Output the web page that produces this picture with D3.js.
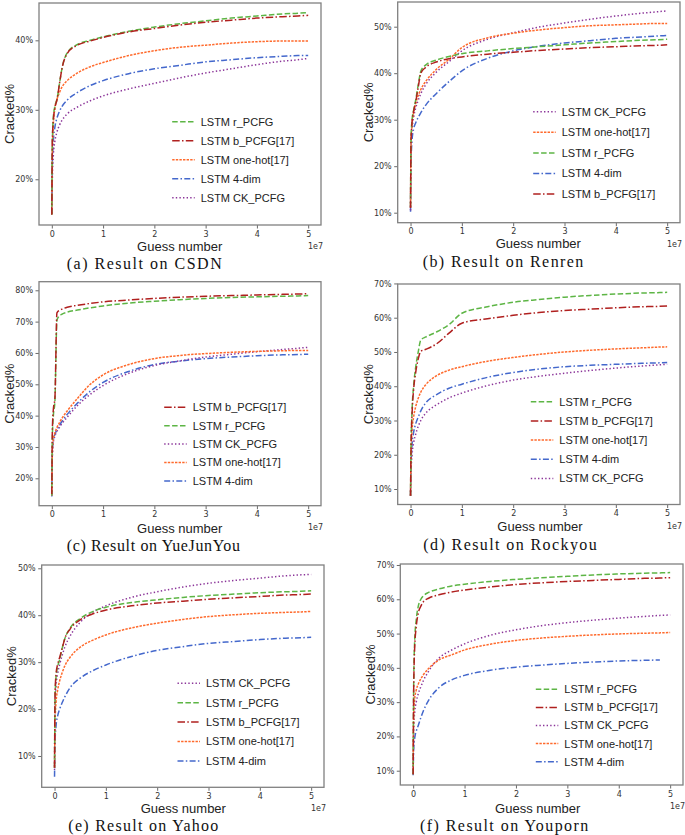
<!DOCTYPE html>
<html><head><meta charset="utf-8">
<script src="https://cdn.jsdelivr.net/npm/d3@7"></script>
<style>body{margin:0;background:#fff}svg{display:block}</style>
</head><body>
<svg id="chart" width="685" height="835"></svg>
<script>
// ---------- DATA ----------
// Guess number in units of 1e7
const guessesE7 = [0, 0.01, 0.03, 0.06, 0.1, 0.15, 0.2, 0.3, 0.5, 0.75, 1, 1.5, 2, 2.5, 3, 3.5, 4, 4.5, 4.8, 5];
const xTicks = [0, 1, 2, 3, 4, 5];

const seriesKeys = ["r", "b", "onehot", "dim4", "ck"];
const seriesLabels = ["LSTM r_PCFG", "LSTM b_PCFG[17]", "LSTM one-hot[17]", "LSTM 4-dim", "LSTM CK_PCFG"];

// (a) CSDN  (Cracked %)
const csdnR      = [14.9, 25, 29, 30.5, 31.5, 33.8, 36.0, 38.2, 39.4, 40.0, 40.5, 41.3, 41.9, 42.4, 42.8, 43.2, 43.5, 43.8, 43.9, 44.0];
const csdnB      = [14.9, 25.5, 28.5, 30.3, 31.4, 33.8, 36.0, 38.1, 39.3, 39.9, 40.4, 41.2, 41.7, 42.2, 42.6, 42.9, 43.2, 43.4, 43.5, 43.6];
const csdnOneHot = [15, 24, 28, 30.2, 31.5, 32.5, 33.3, 34.2, 35.3, 36.2, 36.8, 37.8, 38.5, 39.0, 39.3, 39.6, 39.8, 39.9, 39.9, 39.9];
const csdnDim4   = [15, 22, 25.5, 27.5, 28.8, 29.8, 30.5, 31.4, 32.5, 33.5, 34.2, 35.2, 35.9, 36.4, 36.9, 37.2, 37.5, 37.7, 37.8, 37.8];
const csdnCK     = [15, 20, 23.5, 25.5, 26.8, 27.8, 28.5, 29.4, 30.4, 31.3, 32.0, 33.0, 33.8, 34.6, 35.3, 35.9, 36.5, 37.0, 37.2, 37.4];
const csdnYTicks = [20, 30, 40];
const csdnLegend = ["r", "b", "onehot", "dim4", "ck"];

// (b) Renren
const renrenR      = [11.3, 26, 30, 32, 34.2, 37.5, 40.4, 41.8, 42.8, 43.6, 44.2, 44.8, 45.3, 45.7, 46.1, 46.5, 46.8, 47.1, 47.2, 47.3];
const renrenB      = [11, 25.5, 29.5, 31.8, 33.8, 37, 40, 41.3, 42.4, 43.1, 43.5, 44.1, 44.5, 44.9, 45.2, 45.5, 45.7, 45.9, 46.0, 46.1];
const renrenOneHot = [11, 25, 29, 31.5, 33.5, 35.2, 36.5, 38.3, 40.8, 43.0, 45.5, 47.6, 48.6, 49.3, 49.8, 50.2, 50.4, 50.6, 50.7, 50.7];
const renrenDim4   = [10.2, 21, 25.6, 28, 29.3, 30.5, 31.5, 33.2, 35.6, 38.2, 40.5, 43.2, 44.8, 45.8, 46.5, 47.0, 47.5, 47.8, 48.0, 48.1];
const renrenCK     = [10.5, 24, 28, 30.5, 32.5, 34.2, 35.6, 37.6, 40.2, 42.5, 44.8, 47.3, 48.7, 49.9, 50.8, 51.6, 52.3, 52.9, 53.2, 53.4];
const renrenYTicks = [10, 20, 30, 40, 50];
const renrenLegend = ["ck", "onehot", "r", "dim4", "b"];

// (c) YueJunYou
const yjyR      = [14.5, 33, 40, 44.5, 70.5, 71.8, 72.4, 73.0, 73.7, 74.4, 75.0, 75.9, 76.5, 77.0, 77.4, 77.7, 77.9, 78.1, 78.2, 78.3];
const yjyB      = [15, 35, 42, 45.5, 72.8, 73.6, 74.0, 74.6, 75.2, 75.8, 76.3, 76.9, 77.4, 77.8, 78.1, 78.3, 78.5, 78.7, 78.8, 78.9];
const yjyOneHot = [14.5, 28, 32.5, 34.5, 36.2, 37.8, 39.2, 41.5, 45.5, 50.0, 53.0, 56.3, 58.2, 59.2, 59.8, 60.2, 60.5, 60.7, 60.8, 60.8];
const yjyDim4   = [14.2, 28, 32, 34, 35.5, 36.9, 38.2, 40.4, 44.0, 47.8, 50.6, 54.1, 56.3, 57.4, 58.2, 58.7, 59.1, 59.4, 59.5, 59.6];
const yjyCK     = [14.5, 27, 31.5, 33.5, 35, 36.3, 37.5, 39.5, 43.2, 46.8, 49.6, 53.5, 56.0, 57.5, 58.7, 59.6, 60.4, 61.1, 61.5, 61.8];
const yjyYTicks = [20, 30, 40, 50, 60, 70, 80];
const yjyLegend = ["b", "r", "ck", "onehot", "dim4"];

// (d) Rockyou
const rockyouR      = [8, 22, 33, 40, 45.5, 50, 53.5, 54.4, 55.8, 58.0, 61.3, 63.2, 64.5, 65.3, 66.0, 66.5, 66.9, 67.2, 67.3, 67.4];
const rockyouB      = [8, 22, 32, 39, 44, 48, 50.2, 50.8, 52.3, 55.5, 58.4, 59.7, 60.7, 61.5, 62.1, 62.5, 62.9, 63.2, 63.3, 63.4];
const rockyouOneHot = [8, 20, 27, 31, 34, 36.5, 38.3, 40.5, 43.0, 44.7, 45.7, 47.3, 48.4, 49.3, 50.0, 50.5, 50.9, 51.2, 51.4, 51.5];
const rockyouDim4   = [8, 17, 23, 26.5, 29, 31, 32.8, 35.2, 37.5, 39.4, 40.6, 42.6, 44.0, 45.0, 45.7, 46.1, 46.4, 46.7, 46.8, 46.9];
const rockyouCK     = [8, 15, 20, 23.5, 26, 28.3, 30, 32.2, 34.5, 36.6, 38.0, 40.2, 41.8, 42.9, 43.8, 44.6, 45.3, 45.9, 46.2, 46.4];
const rockyouYTicks = [10, 20, 30, 40, 50, 60, 70];
const rockyouLegend = ["r", "b", "onehot", "dim4", "ck"];

// (e) Yahoo
const yahooR      = [7.5, 22, 27, 29, 30.5, 33, 35, 37.2, 39.3, 40.8, 41.7, 42.7, 43.3, 43.8, 44.2, 44.5, 44.8, 45.0, 45.1, 45.2];
const yahooB      = [7.5, 23, 27.5, 29.5, 31, 33, 35, 37, 39, 40.3, 41.1, 42.0, 42.6, 43.0, 43.4, 43.7, 44.0, 44.3, 44.4, 44.5];
const yahooOneHot = [7.5, 17, 21.5, 24, 26, 27.8, 29.2, 31, 33.2, 34.7, 35.8, 37.3, 38.3, 39.1, 39.7, 40.1, 40.4, 40.6, 40.7, 40.8];
const yahooDim4   = [5.6, 13, 16.5, 18.5, 20, 21.4, 22.6, 24.5, 26.6, 28.2, 29.4, 31.2, 32.5, 33.3, 34.0, 34.4, 34.8, 35.1, 35.2, 35.3];
const yahooCK     = [7, 20, 25, 27.5, 29.5, 31.5, 33.2, 35.5, 38.5, 40.7, 42.0, 43.8, 45.0, 46.0, 46.8, 47.4, 47.9, 48.4, 48.6, 48.7];
const yahooYTicks = [10, 20, 30, 40, 50];
const yahooLegend = ["ck", "r", "b", "onehot", "dim4"];

// (f) Youporn
const youpornR      = [9, 35, 48, 54, 58, 60, 61, 62, 63, 63.9, 64.4, 65.2, 65.8, 66.3, 66.7, 67.1, 67.4, 67.6, 67.7, 67.8];
const youpornB      = [9, 33, 46, 52, 56, 58, 59.3, 60.3, 61.3, 62.1, 62.7, 63.6, 64.3, 64.8, 65.2, 65.5, 65.8, 66.1, 66.2, 66.3];
const youpornOneHot = [9, 26, 31, 33.5, 35.3, 36.8, 38, 39.8, 42.3, 43.8, 45.2, 46.9, 48.0, 48.7, 49.2, 49.6, 49.9, 50.1, 50.2, 50.3];
const youpornDim4   = [8.7, 16, 19.5, 21.5, 23.2, 25.5, 27.5, 30.5, 34.2, 36.5, 37.8, 39.3, 40.2, 40.8, 41.3, 41.7, 42.0, 42.2, 42.3, null];
const youpornCK     = [9, 22, 27, 30, 32.5, 34.5, 36.3, 39, 42.8, 45.2, 47.0, 49.5, 51.1, 52.3, 53.2, 53.9, 54.5, 55.0, 55.3, 55.4];
const youpornYTicks = [10, 20, 30, 40, 50, 60, 70];
const youpornLegend = ["r", "b", "ck", "onehot", "dim4"];

const captions = ["(a) Result on CSDN", "(b) Result on Renren", "(c) Result on YueJunYou",
                  "(d) Result on Rockyou", "(e) Result on Yahoo", "(f) Result on Youporn"];

// ---------- STYLE ----------
const styles = {
  r:      {color: "#5db545", dash: "5.5,2.4"},
  b:      {color: "#b0201f", dash: "7.5,2.3,1.5,2.3"},
  onehot: {color: "#ff6a2c", dash: "2.4,1.2"},
  dim4:   {color: "#4468cc", dash: "6,2.3,1.5,2.3"},
  ck:     {color: "#8b3599", dash: "1.4,2.2"}
};
const drawOrder = ["dim4", "ck", "onehot", "r", "b"];

const panels = [
  {L: 39,    R: 321, T: 3,     B: 225,   yDom: [13.42, 45.37], yTicks: csdnYTicks, legend: csdnLegend,
   data: {r: csdnR, b: csdnB, onehot: csdnOneHot, dim4: csdnDim4, ck: csdnCK},
   legX: 200.7, legY: 121.7, legDy: 19, ylabX: 14, glabX: 179.7, glabY: 251, capX: 66.7, capW: 155, capY: 268.5},
  {L: 397.7, R: 680, T: 2,     B: 222.7, yDom: [7.85, 55.31], yTicks: renrenYTicks, legend: renrenLegend,
   data: {r: renrenR, b: renrenB, onehot: renrenOneHot, dim4: renrenDim4, ck: renrenCK},
   legX: 561.7, legY: 111.7, legDy: 20.6, ylabX: 373, glabX: 538.3, glabY: 248, capX: 422.7, capW: 160.6, capY: 267},
  {L: 39,    R: 321, T: 281.7, B: 505.7, yDom: [11.26, 82.74], yTicks: yjyYTicks, legend: yjyLegend,
   data: {r: yjyR, b: yjyB, onehot: yjyOneHot, dim4: yjyDim4, ck: yjyCK},
   legX: 192.7, legY: 407.3, legDy: 18.4, ylabX: 14, glabX: 179.7, glabY: 533, capX: 66.7, capW: 173.3, capY: 551},
  {L: 397.7, R: 680, T: 284,   B: 504.5, yDom: [5.48, 69.84], yTicks: rockyouYTicks, legend: rockyouLegend,
   data: {r: rockyouR, b: rockyouB, onehot: rockyouOneHot, dim4: rockyouDim4, ck: rockyouCK},
   legX: 559.3, legY: 401.7, legDy: 19.2, ylabX: 373, glabX: 540, glabY: 531, capX: 423.3, capW: 173.4, capY: 549.5},
  {L: 41.7,  R: 324, T: 565,   B: 787.3, yDom: [3.33, 50.70], yTicks: yahooYTicks, legend: yahooLegend,
   data: {r: yahooR, b: yahooB, onehot: yahooOneHot, dim4: yahooDim4, ck: yahooCK},
   legX: 206, legY: 683.3, legDy: 19.4, ylabX: 16, glabX: 183.3, glabY: 813, capX: 68.3, capW: 150, capY: 831},
  {L: 400.3, R: 683, T: 564,   B: 785,   yDom: [5.83, 70.29], yTicks: youpornYTicks, legend: youpornLegend,
   data: {r: youpornR, b: youpornB, onehot: youpornOneHot, dim4: youpornDim4, ck: youpornCK},
   legX: 564.3, legY: 689.3, legDy: 18.1, ylabX: 375, glabX: 537.7, glabY: 812.5, capX: 420, capW: 168.3, capY: 831}
];

const svg = d3.select("#chart");
const tickFont = "DejaVu Sans, sans-serif";
const labFont = "Liberation Sans, Arial, sans-serif";

panels.forEach((p, i) => {
  const g = svg.append("g");
  const x = d3.scaleLinear().domain([-0.25, 5.25]).range([p.L, p.R]);
  const y = d3.scaleLinear().domain(p.yDom).range([p.B, p.T]);

  // lines
  const clipId = "clip" + i;
  svg.append("clipPath").attr("id", clipId).append("rect")
    .attr("x", p.L).attr("y", p.T).attr("width", p.R - p.L).attr("height", p.B - p.T);
  const line = d3.line()
    .defined(d => d[1] != null)
    .x(d => x(d[0])).y(d => y(d[1]))
    .curve(d3.curveMonotoneX);
  const lg = g.append("g").attr("clip-path", `url(#${clipId})`);
  drawOrder.forEach(k => {
    const vals = p.data[k];
    const pts = guessesE7.map((gx, j) => [gx, vals[j]]);
    lg.append("path").attr("d", line(pts))
      .attr("fill", "none").attr("stroke", styles[k].color)
      .attr("stroke-width", 1.5).attr("stroke-dasharray", styles[k].dash);
  });

  // axes
  const xAxis = d3.axisBottom(x).tickValues(xTicks).tickSize(3.5).tickPadding(2.5).tickFormat(d3.format("d"));
  const yAxis = d3.axisLeft(y).tickValues(p.yTicks).tickSize(3.5).tickPadding(2.5).tickFormat(d => d + "%");
  const gx = g.append("g").attr("transform", `translate(0,${p.B})`).call(xAxis);
  const gy = g.append("g").attr("transform", `translate(${p.L},0)`).call(yAxis);
  [gx, gy].forEach(a => {
    a.select(".domain").remove();
    a.selectAll("line").attr("stroke", "#444").attr("stroke-width", 0.8);
    a.selectAll("text").attr("font-family", tickFont).attr("font-size", 8).attr("fill", "#333");
  });

  // frame
  g.append("rect").attr("x", p.L).attr("y", p.T).attr("width", p.R - p.L).attr("height", p.B - p.T)
    .attr("fill", "none").attr("stroke", "#808080").attr("stroke-width", 1.3);

  // offset label
  g.append("text").attr("x", p.R + 2).attr("y", p.B + 24).attr("text-anchor", "end")
    .attr("font-family", tickFont).attr("font-size", 8).attr("fill", "#333").text("1e7");

  // axis labels
  g.append("text").attr("x", p.glabX).attr("y", p.glabY).attr("text-anchor", "middle")
    .attr("font-family", labFont).attr("font-size", 13).attr("fill", "#222").text("Guess number");
  g.append("text").attr("transform", `translate(${p.ylabX},${(p.T + p.B) / 2}) rotate(-90)`)
    .attr("text-anchor", "middle").attr("font-family", labFont).attr("font-size", 13).attr("fill", "#222").text("Cracked%");

  // legend
  p.legend.forEach((k, j) => {
    const ly = p.legY + j * p.legDy;
    g.append("line").attr("x1", p.legX - 28.5).attr("x2", p.legX - 6).attr("y1", ly).attr("y2", ly)
      .attr("stroke", styles[k].color).attr("stroke-width", 1.5).attr("stroke-dasharray", styles[k].dash);
    g.append("text").attr("x", p.legX).attr("y", ly).attr("dy", "0.36em")
      .attr("font-family", labFont).attr("font-size", 11).attr("fill", "#222")
      .text(seriesLabels[seriesKeys.indexOf(k)]);
  });

  // caption
  g.append("text").attr("x", p.capX).attr("y", p.capY)
    .attr("font-family", "Liberation Serif, serif").attr("font-size", 16).attr("fill", "#111")
    .attr("textLength", p.capW).attr("lengthAdjust", "spacing")
    .text(captions[i]);
});
</script>
</body></html>
